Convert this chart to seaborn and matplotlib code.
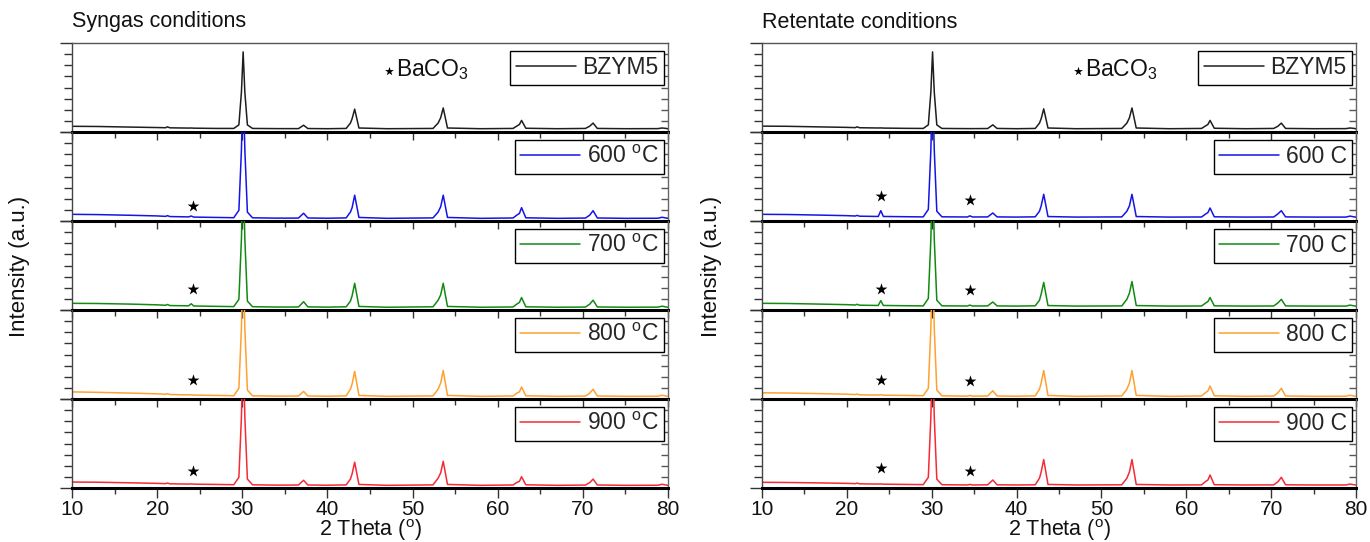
import numpy as np
import pandas as pd
import matplotlib
matplotlib.use("Agg")
import matplotlib.pyplot as plt
import seaborn as sns

# ---------------------------------------------------------------------------
# XRD traces (2 theta in degrees, normalised intensity), traced points
# ---------------------------------------------------------------------------
two_theta = [10, 13, 17, 20, 21.0, 21.2, 21.5, 23.7, 24.0, 24.3, 27, 29.0,
             29.6, 29.9, 30.1, 30.3, 30.6, 31.2, 34.2, 34.5, 34.8, 36.6, 37.2,
             37.7, 40, 42.2, 42.7, 42.9, 43.2, 43.7, 47, 52.4, 53.0, 53.3, 53.6,
             54.1, 58, 61.8, 62.3, 62.55, 62.8, 63.3, 67, 70.3, 70.8, 71.2, 71.7,
             75, 78.8, 79.3, 79.8, 80]

syngas_bzym5 = [0.064, 0.062, 0.055, 0.050, 0.048, 0.058, 0.047, 0.044, 0.045, 0.043,
                0.040, 0.040, 0.08, 0.45, 0.90, 0.45, 0.08, 0.040, 0.038, 0.038,
                0.038, 0.038, 0.076, 0.039, 0.037, 0.040, 0.10, 0.15, 0.257, 0.045,
                0.037, 0.040, 0.10, 0.16, 0.27, 0.045, 0.037, 0.040, 0.07, 0.085,
                0.13, 0.042, 0.037, 0.040, 0.065, 0.10, 0.040, 0.037, 0.038, 0.045,
                0.040, 0.036]
syngas_600 = [0.075, 0.072, 0.064, 0.057, 0.052, 0.060, 0.050, 0.046, 0.056, 0.044,
              0.040, 0.037, 0.12, 0.80, 1.60, 0.80, 0.10, 0.036, 0.032, 0.033,
              0.032, 0.033, 0.087, 0.034, 0.031, 0.035, 0.10, 0.15, 0.29, 0.040,
              0.030, 0.035, 0.10, 0.16, 0.29, 0.040, 0.030, 0.034, 0.07, 0.085,
              0.15, 0.036, 0.030, 0.033, 0.065, 0.116, 0.034, 0.030, 0.031, 0.042,
              0.033, 0.030]
syngas_700 = [0.075, 0.073, 0.066, 0.058, 0.053, 0.062, 0.050, 0.047, 0.070, 0.045,
              0.041, 0.038, 0.12, 0.80, 1.60, 0.80, 0.10, 0.037, 0.033, 0.034,
              0.033, 0.034, 0.093, 0.035, 0.032, 0.036, 0.10, 0.16, 0.30, 0.040,
              0.031, 0.036, 0.11, 0.17, 0.30, 0.040, 0.031, 0.034, 0.07, 0.085,
              0.14, 0.036, 0.031, 0.033, 0.065, 0.11, 0.034, 0.031, 0.032, 0.043,
              0.033, 0.031]
syngas_800 = [0.080, 0.075, 0.066, 0.058, 0.053, 0.060, 0.050, 0.046, 0.048, 0.044,
              0.040, 0.037, 0.12, 0.80, 1.60, 0.80, 0.10, 0.036, 0.032, 0.033,
              0.032, 0.034, 0.085, 0.034, 0.031, 0.035, 0.11, 0.17, 0.31, 0.040,
              0.030, 0.035, 0.11, 0.18, 0.32, 0.040, 0.030, 0.034, 0.07, 0.08,
              0.135, 0.036, 0.030, 0.033, 0.065, 0.11, 0.034, 0.030, 0.031, 0.042,
              0.033, 0.030]
syngas_900 = [0.067, 0.065, 0.058, 0.052, 0.049, 0.056, 0.047, 0.044, 0.046, 0.043,
              0.040, 0.037, 0.12, 0.80, 1.60, 0.80, 0.10, 0.036, 0.032, 0.033,
              0.032, 0.034, 0.087, 0.034, 0.031, 0.035, 0.10, 0.16, 0.29, 0.040,
              0.030, 0.035, 0.11, 0.17, 0.30, 0.040, 0.030, 0.034, 0.065, 0.075,
              0.127, 0.036, 0.030, 0.033, 0.06, 0.10, 0.034, 0.030, 0.031, 0.042,
              0.033, 0.030]

retentate_bzym5 = [0.066, 0.064, 0.057, 0.052, 0.049, 0.058, 0.048, 0.045, 0.046, 0.044,
                   0.041, 0.040, 0.08, 0.45, 0.90, 0.45, 0.08, 0.040, 0.038, 0.038,
                   0.038, 0.039, 0.08, 0.040, 0.037, 0.040, 0.10, 0.15, 0.26, 0.045,
                   0.037, 0.040, 0.10, 0.16, 0.27, 0.045, 0.037, 0.040, 0.07, 0.085,
                   0.13, 0.042, 0.037, 0.040, 0.065, 0.10, 0.040, 0.037, 0.038, 0.045,
                   0.040, 0.036]
retentate_600 = [0.075, 0.073, 0.066, 0.060, 0.056, 0.063, 0.054, 0.051, 0.116, 0.051,
                 0.048, 0.046, 0.13, 0.80, 1.60, 0.80, 0.11, 0.047, 0.045, 0.058,
                 0.045, 0.046, 0.09, 0.046, 0.044, 0.047, 0.11, 0.17, 0.30, 0.050,
                 0.044, 0.046, 0.11, 0.17, 0.30, 0.050, 0.044, 0.045, 0.08, 0.095,
                 0.146, 0.047, 0.044, 0.045, 0.08, 0.116, 0.046, 0.044, 0.044, 0.055,
                 0.046, 0.043]
retentate_700 = [0.075, 0.073, 0.066, 0.060, 0.056, 0.064, 0.054, 0.051, 0.105, 0.051,
                 0.048, 0.046, 0.13, 0.80, 1.60, 0.80, 0.11, 0.047, 0.045, 0.055,
                 0.045, 0.046, 0.09, 0.046, 0.044, 0.047, 0.11, 0.18, 0.31, 0.050,
                 0.044, 0.046, 0.12, 0.19, 0.32, 0.050, 0.044, 0.045, 0.08, 0.095,
                 0.14, 0.047, 0.044, 0.045, 0.08, 0.12, 0.046, 0.044, 0.044, 0.055,
                 0.046, 0.043]
retentate_800 = [0.070, 0.067, 0.060, 0.054, 0.050, 0.056, 0.047, 0.044, 0.048, 0.043,
                 0.040, 0.037, 0.12, 0.80, 1.60, 0.80, 0.10, 0.036, 0.032, 0.040,
                 0.032, 0.034, 0.093, 0.034, 0.031, 0.035, 0.11, 0.18, 0.32, 0.040,
                 0.030, 0.035, 0.11, 0.18, 0.32, 0.040, 0.030, 0.034, 0.075, 0.09,
                 0.146, 0.036, 0.030, 0.033, 0.07, 0.12, 0.034, 0.030, 0.031, 0.042,
                 0.033, 0.030]
retentate_900 = [0.064, 0.062, 0.057, 0.052, 0.049, 0.055, 0.047, 0.044, 0.046, 0.043,
                 0.040, 0.038, 0.12, 0.80, 1.60, 0.80, 0.10, 0.037, 0.034, 0.040,
                 0.034, 0.036, 0.09, 0.036, 0.034, 0.036, 0.11, 0.18, 0.32, 0.040,
                 0.034, 0.036, 0.11, 0.18, 0.32, 0.040, 0.034, 0.035, 0.075, 0.09,
                 0.146, 0.037, 0.034, 0.035, 0.07, 0.12, 0.036, 0.034, 0.034, 0.044,
                 0.036, 0.034]

syngas_labels = ["BZYM5", "600 $^{\\mathrm{o}}$C", "700 $^{\\mathrm{o}}$C",
                 "800 $^{\\mathrm{o}}$C", "900 $^{\\mathrm{o}}$C"]
retentate_labels = ["BZYM5", "600 C", "700 C", "800 C", "900 C"]
series_colors = ["#1e1e1e", "#1414e6", "#118a11", "#ffa030", "#f52a35"]

# BaCO3 reflections marked with a star: (2 theta, height) per panel
syngas_stars = [[], [(24.2, 0.17)], [(24.2, 0.24)], [(24.2, 0.21)], [(24.2, 0.19)]]
retentate_stars = [[], [(24.0, 0.28), (34.5, 0.24)], [(24.0, 0.24), (34.5, 0.22)],
                   [(24.0, 0.21), (34.5, 0.20)], [(24.0, 0.22), (34.5, 0.19)]]

x_ticks = [10, 20, 30, 40, 50, 60, 70, 80]

# ---------------------------------------------------------------------------
sns.set_style("white")
plt.rcParams["font.family"] = ["Liberation Sans", "DejaVu Sans"]
plt.rcParams["mathtext.fontset"] = "custom"
plt.rcParams["mathtext.rm"] = "Liberation Sans"
plt.rcParams["mathtext.it"] = "Liberation Sans"

W, H = 1370, 542
fig = plt.figure(figsize=(W / 100, H / 100), dpi=100)
fig.patch.set_facecolor("white")


def draw_block(left_px, right_px, series, labels, stars, title):
    gs = fig.add_gridspec(5, 1, left=left_px / W, right=right_px / W,
                          top=1 - 43 / H, bottom=1 - 488 / H, hspace=0)
    axes = []
    for i in range(5):
        ax = fig.add_subplot(gs[i, 0])
        ax.set_facecolor("none")
        df = pd.DataFrame({"two_theta": two_theta, "intensity": series[i]})
        sns.lineplot(data=df, x="two_theta", y="intensity", ax=ax, sort=False,
                     color=series_colors[i], linewidth=1.1, label=labels[i])
        ax.set_xlim(10, 80)
        ax.set_ylim(0, 1)
        ax.set_xlabel("")
        ax.set_ylabel("")

        # y ticks: long at panel edges, short in between; no labels
        ax.set_yticks([0, 1])
        ax.set_yticks(np.arange(1, 8) / 8, minor=True)
        ax.yaxis.set_ticklabels([])
        ax.tick_params(axis="y", which="major", direction="out", length=9,
                       width=1, color="#333333", left=True, right=False)
        ax.tick_params(axis="y", which="minor", direction="out", length=6,
                       width=1, color="#333333", left=True, right=False)
        sec = ax.secondary_yaxis("right")
        sec.set_yticks(np.arange(1, 8) / 8)
        sec.yaxis.set_ticklabels([])
        sec.tick_params(axis="y", direction="in", length=5, width=1, color="#555555")
        sec.spines["right"].set_color("#666666")
        sec.spines["right"].set_linewidth(1)

        # x ticks drawn downward from each panel's lower edge
        ax.set_xticks(x_ticks)
        ax.set_xticks([15, 25, 35, 45, 55, 65, 75], minor=True)
        ax.tick_params(axis="x", which="major", direction="out", length=6,
                       width=1, color="#333333", bottom=True, top=False)
        ax.tick_params(axis="x", which="minor", direction="out", length=4,
                       width=1, color="#333333", bottom=True, top=False)
        if i < 4:
            ax.xaxis.set_ticklabels([])
        else:
            ax.tick_params(axis="x", which="major", length=7, labelsize=15,
                           pad=1.5, labelcolor="#111111")
            ax.set_xlabel("2 Theta ($^{\\mathrm{o}}$)", fontsize=15.5, labelpad=-1,
                          color="#111111")

        for side in ("left", "right", "top", "bottom"):
            ax.spines[side].set_visible(True)
        ax.spines["bottom"].set_color("black")
        ax.spines["bottom"].set_linewidth(2.2)
        ax.spines["left"].set_color("#444444")
        ax.spines["left"].set_linewidth(1)
        ax.spines["right"].set_visible(False)
        if i == 0:
            ax.spines["top"].set_color("#555555")
            ax.spines["top"].set_linewidth(1)
        else:
            ax.spines["top"].set_visible(False)

        leg = ax.legend(loc="upper right", bbox_to_anchor=(0.994, 0.915),
                        borderaxespad=0, frameon=True, fancybox=False,
                        edgecolor="black", fontsize=16.5, handlelength=2.6,
                        handletextpad=0.3, borderpad=0.25)
        leg.get_frame().set_linewidth(1.0)
        leg.get_frame().set_alpha(1)

        for sx, sy in stars[i]:
            ax.scatter([sx], [sy], marker="*", s=80, color="black", zorder=5,
                       linewidths=0)
        axes.append(ax)

    top = axes[0]
    top.scatter([47.2], [0.69], marker="*", s=45, color="black", zorder=5,
                linewidths=0)
    top.text(48.1, 0.70, "BaCO$_3$", fontsize=16.5, va="center", ha="left",
             color="#111111")

    fig.text(left_px / W, 1 - 22 / H, title, fontsize=15.5, ha="left",
             va="center", color="#111111")
    return axes


draw_block(72, 668,
           [syngas_bzym5, syngas_600, syngas_700, syngas_800, syngas_900],
           syngas_labels, syngas_stars, "Syngas conditions")
draw_block(762, 1356,
           [retentate_bzym5, retentate_600, retentate_700, retentate_800, retentate_900],
           retentate_labels, retentate_stars, "Retentate conditions")

for xpx in (20, 712):
    fig.text(xpx / W, 1 - 266 / H, "Intensity (a.u.)", rotation=90,
             fontsize=16, ha="center", va="center", color="#111111")

fig.savefig("out.png", dpi=100, facecolor="white")
